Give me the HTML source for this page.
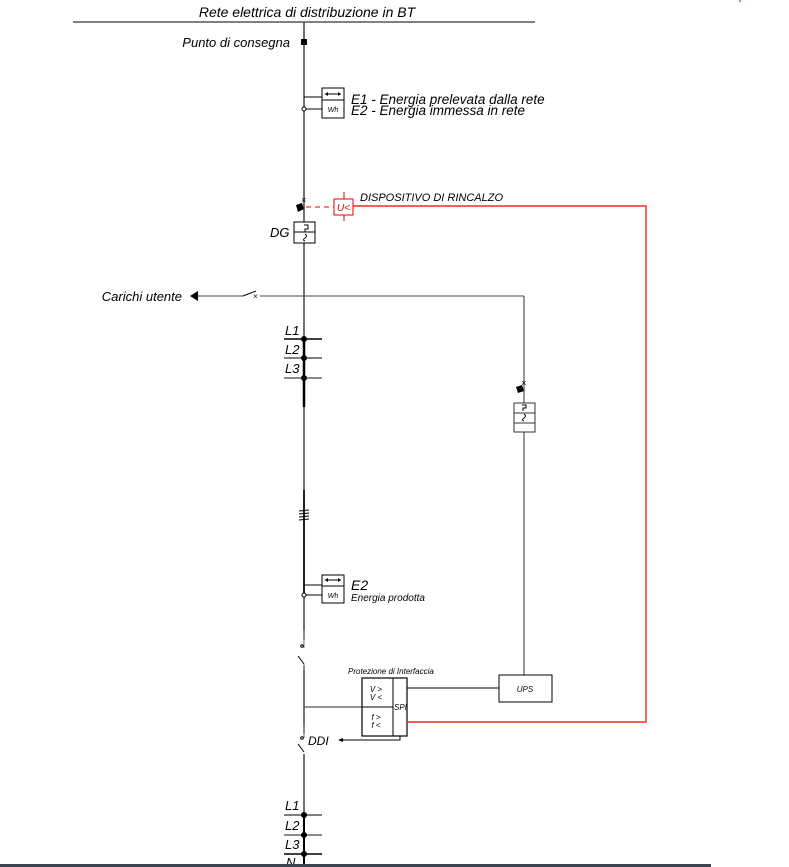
<!DOCTYPE html>
<html><head><meta charset="utf-8"><style>
html,body{margin:0;padding:0;background:#fff;width:789px;height:867px;overflow:hidden}
svg{display:block}
text{font-family:"Liberation Sans",sans-serif;font-style:italic;fill:#000}
</style></head><body>
<svg width="789" height="867" viewBox="0 0 789 867" xmlns="http://www.w3.org/2000/svg">
<text x="307" y="17" font-size="14" text-anchor="middle">Rete elettrica di distribuzione in BT</text>
<line x1="73" y1="22" x2="535" y2="22" stroke="#000" stroke-width="1"/>
<line x1="304" y1="22" x2="304" y2="867" stroke="#444" stroke-width="1.5"/>
<line x1="304" y1="339" x2="304" y2="407" stroke="#000" stroke-width="2.5"/>
<line x1="304" y1="490" x2="304" y2="595" stroke="#222" stroke-width="2"/>
<line x1="304" y1="815" x2="304" y2="867" stroke="#000" stroke-width="2"/>
<rect x="301" y="39" width="6" height="6" fill="#000"/>
<text x="290" y="47" font-size="13" text-anchor="end">Punto di consegna</text>
<rect x="322" y="88" width="22" height="30" fill="#fff" stroke="#000"/>
<line x1="322" y1="100" x2="344" y2="100" stroke="#000"/>
<line x1="325" y1="94" x2="341" y2="94" stroke="#000"/>
<path d="M325 94 l3 -2 v4z M341 94 l-3 -2 v4z" fill="#000"/>
<text x="333" y="112" font-size="7" text-anchor="middle">Wh</text>
<line x1="304" y1="97" x2="322" y2="97" stroke="#000"/>
<line x1="304" y1="109" x2="322" y2="109" stroke="#000"/>
<circle cx="304" cy="109" r="2" fill="#fff" stroke="#000"/>
<text x="351" y="104" font-size="13.5">E1 - Energia prelevata dalla rete</text>
<text x="351" y="115" font-size="13.5">E2 - Energia immessa in rete</text>
<text x="301" y="203" font-size="9" font-style="normal">×</text>
<path d="M296 205 l6 -2 l2 6 l-6 3z" fill="#000"/>
<line x1="306" y1="207" x2="334" y2="207" stroke="#e00" stroke-dasharray="5,4"/>
<rect x="334" y="199" width="19" height="16" fill="#fff" stroke="#e00"/>
<line x1="344" y1="192" x2="344" y2="199" stroke="#e00"/>
<line x1="344" y1="215" x2="344" y2="221" stroke="#e00"/>
<text x="337" y="211" font-size="10" style="fill:#e00">U&lt;</text>
<text x="360" y="201" font-size="11">DISPOSITIVO DI RINCALZO</text>
<polyline points="353,206 646,206 646,722 408,722" fill="none" stroke="#e00" stroke-width="1.2"/>
<rect x="294" y="222" width="21" height="21" fill="#fff" stroke="#000"/>
<line x1="294" y1="232" x2="315" y2="232" stroke="#000"/>
<path d="M304 225 h4 v4 h-3 v3 M305 234 q3 2 0 4 q-3 2 0 3" fill="none" stroke="#000"/>
<text x="270" y="237" font-size="13">DG</text>
<line x1="196" y1="296" x2="243" y2="296" stroke="#444"/>
<line x1="243" y1="296" x2="256" y2="291" stroke="#000"/>
<text x="253" y="299" font-size="8" font-style="normal">×</text>
<line x1="260" y1="296" x2="524" y2="296" stroke="#444"/>
<path d="M190 296 l8 -5 v10z" fill="#000"/>
<text x="182" y="301" font-size="13" text-anchor="end">Carichi utente</text>
<line x1="524" y1="296" x2="524" y2="677" stroke="#333"/>
<text x="521" y="386" font-size="9" font-style="normal">×</text>
<path d="M516 387 l6 -2 l2 6 l-6 2z" fill="#000"/>
<rect x="514" y="403" width="21" height="29" fill="#fff" stroke="#333"/>
<line x1="514" y1="413" x2="535" y2="413" stroke="#333"/>
<line x1="514" y1="423" x2="535" y2="423" stroke="#333"/>
<path d="M522 405 h4 v3 h-3 v3 M524 414 q3 2 0 4 q-3 2 0 3" fill="none" stroke="#000"/>
<g stroke-width="1.5">
<line x1="284" y1="339" x2="322" y2="339" stroke="#000"/>
<line x1="284" y1="358" x2="322" y2="358" stroke="#555"/>
<line x1="284" y1="378" x2="322" y2="378" stroke="#666"/>
</g>
<circle cx="304" cy="339" r="3" fill="#000"/><circle cx="304" cy="358" r="3" fill="#000"/><circle cx="304" cy="378" r="3" fill="#000"/>
<text x="285" y="335" font-size="13">L1</text>
<text x="285" y="354" font-size="13">L2</text>
<text x="285" y="373" font-size="13">L3</text>
<g stroke="#000"><line x1="299" y1="511" x2="309" y2="510"/><line x1="299" y1="514" x2="309" y2="513"/><line x1="299" y1="517" x2="309" y2="516"/><line x1="299" y1="520" x2="309" y2="519"/></g>
<rect x="322" y="575" width="22" height="28" fill="#fff" stroke="#000"/>
<line x1="322" y1="586" x2="344" y2="586" stroke="#000"/>
<line x1="325" y1="580" x2="341" y2="580" stroke="#000"/>
<path d="M325 580 l3 -2 v4z M341 580 l-3 -2 v4z" fill="#000"/>
<text x="333" y="598" font-size="7" text-anchor="middle">Wh</text>
<line x1="304" y1="585" x2="322" y2="585" stroke="#000"/>
<line x1="304" y1="595" x2="322" y2="595" stroke="#000"/>
<circle cx="304" cy="595" r="2" fill="#fff" stroke="#000"/>
<text x="351" y="590" font-size="14">E2</text>
<text x="351" y="601" font-size="10">Energia prodotta</text>
<rect x="302" y="640" width="5" height="26" fill="#fff"/>
<line x1="304" y1="630" x2="304" y2="648" stroke="#777"/>
<line x1="298" y1="656" x2="304" y2="664" stroke="#000"/>
<circle cx="302" cy="646" r="1.3" fill="none" stroke="#000"/>
<line x1="304" y1="664" x2="304" y2="670" stroke="#777"/>
<text x="348" y="674" font-size="8">Protezione di Interfaccia</text>
<line x1="304" y1="707" x2="362" y2="707" stroke="#555" stroke-width="1.2"/>
<rect x="362" y="678" width="45" height="58" fill="#fff" stroke="#000" stroke-width="1.2"/>
<line x1="393" y1="678" x2="393" y2="736" stroke="#000"/>
<line x1="362" y1="707" x2="393" y2="707" stroke="#000"/>
<text x="376" y="692" font-size="8" text-anchor="middle" font-style="normal">V &gt;</text>
<text x="376" y="700" font-size="8" text-anchor="middle" font-style="normal">V &lt;</text>
<text x="376" y="720" font-size="8" text-anchor="middle" font-style="normal">f &gt;</text>
<text x="376" y="728" font-size="8" text-anchor="middle" font-style="normal">f &lt;</text>
<text x="394" y="710" font-size="8">SPI</text>
<line x1="407" y1="688" x2="499" y2="688" stroke="#000"/>
<rect x="499" y="675" width="53" height="27" fill="#fff" stroke="#000"/>
<text x="525" y="692" font-size="8" text-anchor="middle">UPS</text>
<polyline points="400,736 400,740 342,740" fill="none" stroke="#000"/>
<path d="M338 740 l5 -2 v4z" fill="#000"/>
<rect x="302" y="734" width="5" height="20" fill="#fff"/>
<line x1="304" y1="725" x2="304" y2="738" stroke="#777"/>
<circle cx="302" cy="738" r="1.3" fill="none" stroke="#000"/>
<line x1="298" y1="744" x2="304" y2="752" stroke="#000"/>
<text x="308" y="745" font-size="12">DDI</text>
<g stroke-width="1.5">
<line x1="284" y1="815" x2="322" y2="815" stroke="#555"/>
<line x1="284" y1="835" x2="322" y2="835" stroke="#666"/>
<line x1="284" y1="854" x2="322" y2="854" stroke="#000"/>
</g>
<circle cx="304" cy="815" r="3" fill="#000"/><circle cx="304" cy="835" r="3" fill="#000"/><circle cx="304" cy="854" r="3" fill="#000"/>
<text x="285" y="810" font-size="13">L1</text>
<text x="285" y="830" font-size="13">L2</text>
<text x="285" y="849" font-size="13">L3</text>
<text x="286" y="867" font-size="13">N</text>
<rect x="0" y="864" width="711" height="3" fill="#3a4550"/>
<rect x="739" y="0" width="2" height="2" fill="#f77"/>
</svg>
</body></html>
